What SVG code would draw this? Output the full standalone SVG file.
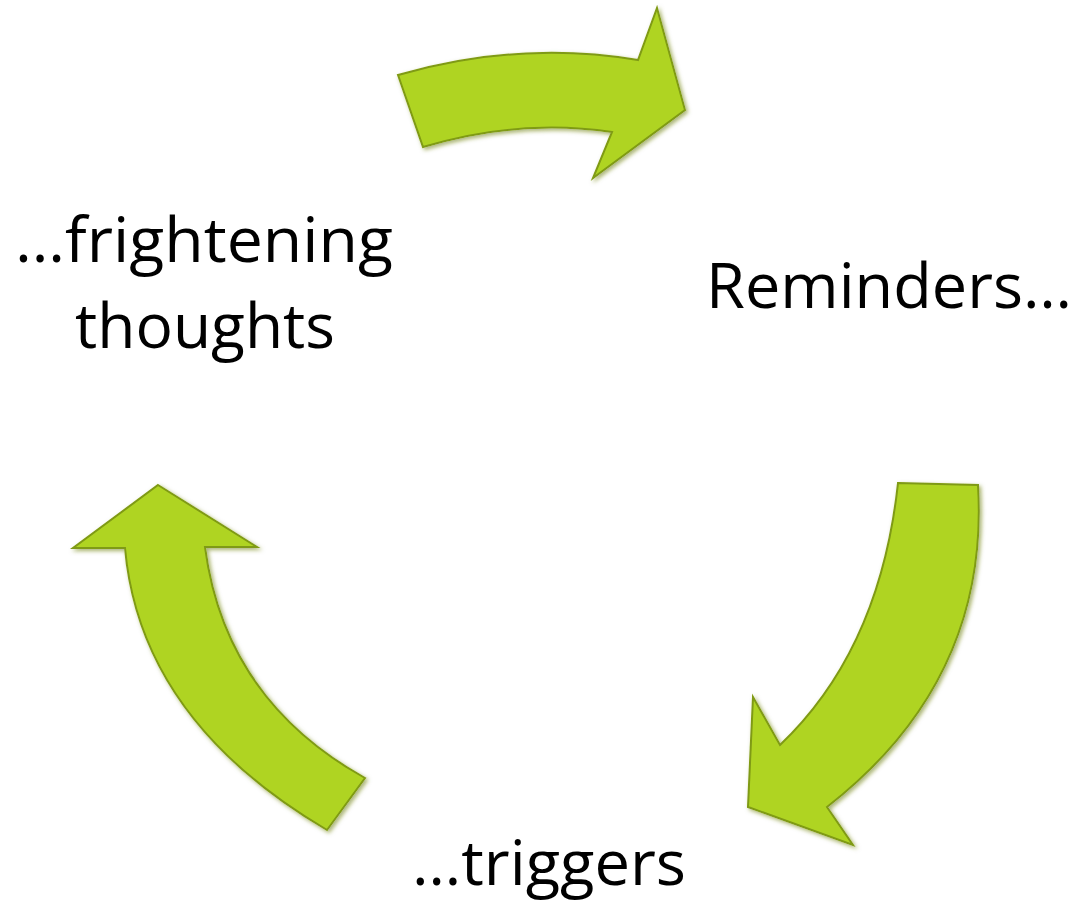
<svg xmlns="http://www.w3.org/2000/svg" width="1080" height="916" viewBox="0 0 1080 916">
<defs>
<style>
.lbl{font-family:"Open Sans","Liberation Sans",sans-serif;font-size:63px;fill:#000}
.arr{fill:#afd424;stroke:#7f9a12;stroke-width:2;stroke-linejoin:miter;filter:url(#bev)}
</style>
<filter id="bev" x="-10%" y="-10%" width="120%" height="120%">
<feGaussianBlur in="SourceAlpha" stdDeviation="2" result="b"/>
<feOffset in="b" dx="2" dy="2" result="o"/>
<feComposite in="o" in2="SourceAlpha" operator="out" result="sh"/>
<feFlood flood-color="#6b7d10" flood-opacity="0.6"/>
<feComposite in2="sh" operator="in" result="shc"/>
<feMerge><feMergeNode in="shc"/><feMergeNode in="SourceGraphic"/></feMerge>
</filter>
</defs>
<rect width="1080" height="916" fill="#fff"/>
<g id="connectors">
<path id="arrow-top" class="arr" d="M398,75 Q520,40 638,60 L657,8 L685,110 L593,178 L612,132 Q520,118 423,147 Z"/>
<path id="arrow-right" class="arr" d="M898,483 L978,485 Q990,680 827,807 L853,845 L748,807 L753,697 L780,745 Q880,650 898,483 Z"/>
<path id="arrow-left" class="arr" d="M158,485 L257,547 L205,547 Q225,700 365,778 L327,830 Q140,720 125,548 L73,548 Z"/>
</g>
<g id="node-thoughts">
<text class="lbl" x="15" y="262" textLength="378" lengthAdjust="spacingAndGlyphs">…frightening</text>
<text class="lbl" x="75" y="348" textLength="260" lengthAdjust="spacingAndGlyphs">thoughts</text>
</g>
<g id="node-reminders">
<text class="lbl" x="706" y="308" textLength="366" lengthAdjust="spacingAndGlyphs">Reminders…</text>
</g>
<g id="node-triggers">
<text class="lbl" x="412" y="885" textLength="274" lengthAdjust="spacingAndGlyphs">…triggers</text>
</g>
</svg>
